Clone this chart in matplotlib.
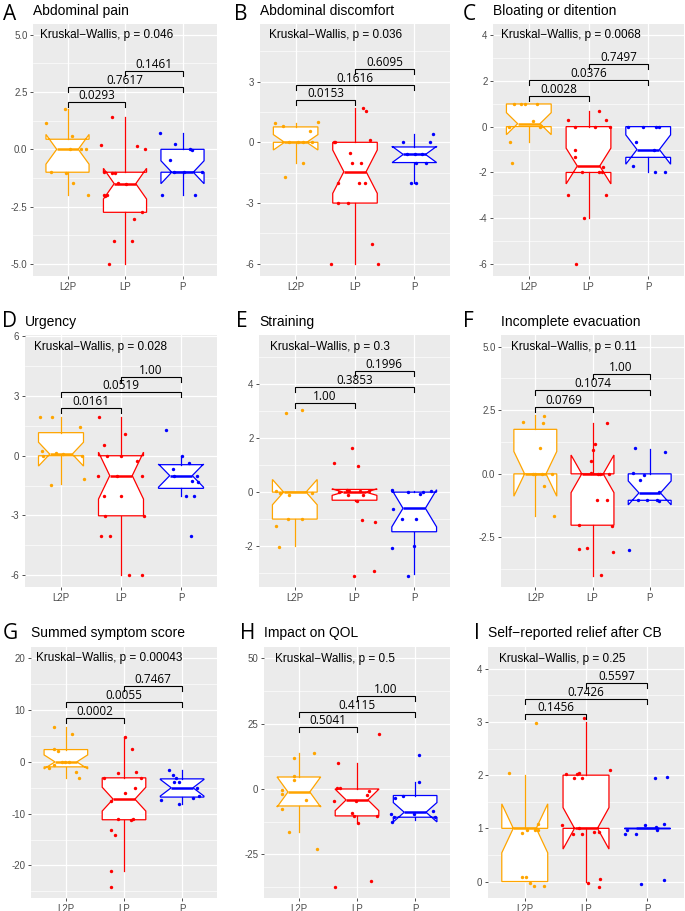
import matplotlib
matplotlib.use("Agg")
import matplotlib.pyplot as plt
import numpy as np
from matplotlib.ticker import FixedLocator, MultipleLocator, FormatStrFormatter

plt.rcParams["font.family"] = ["Liberation Sans", "DejaVu Sans"]

GROUPS = ["L2P", "LP", "P"]
COLORS = ["#FFA500", "#FF0000", "#0000FF"]
PAIRS = [(1, 2), (1, 3), (2, 3)]

LETTERS = list("ABCDEFGHI")
TITLES = ["Abdominal pain", "Abdominal discomfort", "Bloating or ditention",
          "Urgency", "Straining", "Incomplete evacuation",
          "Summed symptom score", "Impact on QOL", "Self\u2212reported relief after CB"]
KW_P = ["0.046", "0.036", "0.0068", "0.028", "0.3", "0.11", "0.00043", "0.5", "0.25"]
KW_X = [0.53, 0.55, 0.53, 0.55, 0.58, 0.57, 0.49, 0.59, 0.58]
KW_Y = [5.0, 5.3, 4.0, 5.49, 5.4, 5.0, 20.0, 49.9, 4.19]
PAIR_P = [["0.0293", "0.7617", "0.1461"], ["0.0153", "0.1616", "0.6095"],
          ["0.0028", "0.0376", "0.7497"], ["0.0161", "0.0519", "1.00"],
          ["1.00", "0.3853", "0.1996"], ["0.0769", "0.1074", "1.00"],
          ["0.0002", "0.0055", "0.7467"], ["0.5041", "0.4115", "1.00"],
          ["0.1456", "0.7426", "0.5597"]]
BRACKET_Y = [[2.07, 2.74, 3.44], [2.09, 2.83, 3.6], [1.34, 2.04, 2.73],
             [2.38, 3.19, 3.98], [3.32, 3.89, 4.5], [2.64, 3.29, 3.92],
             [8.42, 11.5, 14.59], [23.8, 29.6, 35.5], [3.15, 3.44, 3.74]]
YLIMS = [(-5.53, 5.47), (-6.6, 5.84), (-6.52, 4.48), (-6.6, 6.07), (-3.52, 5.83),
         (-4.45, 5.46), (-26.3, 22.2), (-41.7, 54.3), (-0.31, 4.41)]
YTICKS = [[-5, -2.5, 0, 2.5, 5], [-6, -3, 0, 3], [-6, -4, -2, 0, 2, 4],
          [-6, -3, 0, 3, 6], [-2, 0, 2, 4], [-2.5, 0, 2.5, 5],
          [-20, -10, 0, 10, 20], [-25, 0, 25, 50], [0, 1, 2, 3, 4]]
YFMT = ["%.1f", "%d", "%d", "%d", "%d", "%.1f", "%d", "%d", "%d"]

# box stats per group: (whislo, q1, med, q3, whishi, notch_lo, notch_hi)
A_BOX = [(-2.0, -1.0, 0.0, 0.44, 1.75, -0.65, 0.65),
         (-5.0, -2.75, -1.5, -1.0, 1.43, -2.17, -0.83),
         (-2.0, -1.0, -1.0, 0.0, 0.73, -1.5, -0.5)]
B_BOX = [(-1.04, 0.0, 0.0, 0.76, 0.97, -0.38, 0.38),
         (-6.0, -3.0, -1.45, 0.0, 1.68, -2.52, -0.38),
         (-2.02, -1.0, -0.6, -0.23, 0.39, -1.0, -0.2)]
C_BOX = [(-0.65, 0.0, 0.13, 0.99, 0.99, -0.35, 0.61),
         (-4.0, -2.0, -1.72, 0.0, 0.68, -2.5, -0.94),
         (-2.0, -1.34, -1.0, 0.0, 0.0, -1.64, -0.36)]
D_BOX = [(-1.43, 0.0, 0.08, 1.16, 1.96, -0.52, 0.68),
         (-6.0, -3.02, -1.0, 0.0, 1.96, -2.18, 0.18),
         (-2.0, -1.64, -1.0, -0.45, 0.0, -1.58, -0.42)]
E_BOX = [(-2.0, -1.0, 0.0, 0.0, 0.0, -0.47, 0.47),
         (-0.33, -0.3, 0.0, 0.1, 0.1, -0.12, 0.12),
         (-3.02, -1.47, -0.6, 0.0, 0.06, -1.29, 0.09)]
F_BOX = [(-1.67, 0.0, 0.0, 1.75, 2.31, -0.88, 0.88),
         (-4.0, -2.02, 0.0, 0.0, 1.98, -0.74, 0.74),
         (-1.04, -1.04, -0.75, 0.0, 0.98, -1.22, -0.28)]
G_BOX = [(-3.02, -0.96, 0.0, 2.38, 6.68, -1.35, 1.35),
         (-21.1, -11.18, -7.2, -3.08, 4.76, -9.5, -4.9),
         (-8.16, -6.8, -5.0, -3.28, -1.48, -6.6, -3.4)]
H_BOX = [(-16.3, -6.5, -1.15, 4.58, 13.7, -6.9, 4.6),
         (-12.7, -10.3, -4.2, 0.0, 9.9, -8.3, -0.1),
         (-12.0, -10.8, -8.9, -2.5, 2.8, -12.6, -5.2)]
I_BOX = [(0.0, 0.0, 1.0, 1.0, 2.0, 0.54, 1.46),
         (0.0, 1.0, 1.0, 2.0, 3.0, 0.61, 1.39),
         (1.0, 1.0, 1.0, 1.0, 1.0, 1.0, 1.0)]

# jittered points per group: (x jitter, value)
A_L2P = ([-0.38, -0.04, 0.07, 0.04, 0.24, 0.33, -0.28, -0.03, 0.09, 0.35],
         [1.16, 1.75, 0.58, 0.0, 0.0, 0.0, -1.0, -1.03, -1.48, -2.0])
A_LP = ([-0.22, -0.41, 0.2, 0.355, -0.36, -0.22, -0.17, -0.13, 0.02, -0.37, -0.34, -0.32, 0.29, 0.15, -0.19, 0.12, -0.28],
        [1.41, 0.17, 0.15, 0.0, -1.0, -1.03, -1.03, -1.46, -1.53, -2.0, -2.02, -1.98, -2.75, -3.04, -4.0, -4.0, -5.0])
A_P = ([-0.4, -0.13, -0.22, 0.13, 0.16, -0.14, 0.02, 0.34, -0.35, 0.21],
       [0.73, 0.23, -0.45, 0.0, -0.03, -1.0, -1.0, -1.0, -2.0, -2.0])

B_L2P = ([-0.35, -0.22, 0.37, 0.25, -0.11, 0.04, 0.12, 0.28, 0.13, -0.18],
         [0.97, 0.8, 1.0, 0.54, 0.0, 0.0, 0.0, 0.0, -1.04, -1.69])
B_LP = ([0.13, 0.18, 0.25, -0.36, -0.33, -0.08, -0.05, 0.1, -0.28, 0.07, 0.17, -0.28, -0.12, 0.28, -0.4, 0.38],
        [1.71, 1.56, 0.12, 0.0, 0.0, -0.54, -1.04, -1.04, -2.02, -2.02, -2.02, -3.0, -3.0, -5.02, -6.0, -6.0])
B_P = ([-0.19, 0.26, 0.32, -0.13, 0.01, 0.13, 0.02, 0.2, -0.06, 0.02],
       [0.0, 0.0, 0.39, -0.58, -0.58, -0.58, -1.04, -1.04, -2.02, -2.02])

C_L2P = ([-0.24, -0.13, -0.07, 0.14, 0.07, -0.34, 0.18, 0.2, -0.31, -0.28],
         [0.99, 0.99, 0.99, 0.99, 0.26, 0.0, 0.0, 0.03, -0.68, -1.6])
C_LP = ([-0.34, 0.18, 0.29, -0.23, 0.11, 0.36, -0.22, -0.22, -0.11, 0.18, 0.23, 0.25, -0.34, 0.29, -0.08, -0.21],
        [0.29, 0.7, 0.29, 0.0, 0.0, 0.0, -1.0, -1.34, -2.0, -2.0, -2.0, -1.75, -3.0, -3.0, -4.0, -6.0])
C_P = ([-0.34, -0.09, 0.13, 0.18, -0.21, 0.09, -0.25, 0.12, 0.29],
       [0.0, 0.0, 0.0, 0.0, -0.68, -1.0, -1.7, -2.0, -2.0])

D_L2P = ([-0.35, -0.15, 0.32, -0.32, -0.3, -0.09, 0.04, 0.35, -0.17, 0.38],
         [1.96, 1.96, 1.46, 0.23, 0.0, 0.12, 0.07, 0.0, -1.46, -1.17])
D_LP = ([-0.37, 0.07, -0.28, -0.23, 0.0, -0.38, -0.06, 0.35, 0.26, -0.28, 0.0, -0.27, 0.38, -0.34, -0.18, 0.13, 0.35],
        [1.96, 1.1, 0.54, 0.0, 0.0, -1.02, -1.02, -1.02, -0.28, -2.01, -2.01, -3.04, -3.04, -4.03, -4.03, -6.02, -6.02])
D_P = ([-0.25, 0.01, -0.14, 0.13, -0.11, 0.27, 0.19, 0.28, 0.09, 0.22, 0.16],
       [1.29, 0.0, -0.69, -0.35, -1.02, -1.02, -1.27, -1.3, -2.01, -2.01, -4.03])

E_L2P = ([-0.15, 0.12, -0.32, -0.25, -0.1, 0.29, -0.12, 0.12, -0.31, -0.26],
         [2.95, 3.05, 0.04, -0.05, -0.11, -0.05, -0.98, -0.98, -1.26, -2.03])
E_LP = ([-0.04, -0.34, 0.06, -0.12, -0.09, -0.26, 0.1, 0.24, -0.11, 0.15, 0.04, 0.13, 0.34, 0.32, -0.01],
        [1.65, 1.09, 0.97, 0.09, 0.05, 0.0, 0.04, 0.04, -0.09, -0.11, -0.33, -1.04, -1.1, -2.92, -3.1])
E_P = ([-0.37, -0.1, 0.09, 0.14, 0.29, -0.36, -0.2, 0.03, -0.37, -0.01, -0.11],
       [0.07, 0.01, -0.06, 0.0, 0.06, -0.64, -1.0, -1.0, -2.06, -2.0, -3.12])

F_L2P = ([-0.21, 0.15, 0.13, 0.08, -0.04, 0.0, 0.12, 0.3, 0.15, 0.32],
         [2.03, 2.28, 2.0, 1.0, 0.0, 0.0, 0.0, 0.0, -0.47, -1.65])
F_LP = ([0.26, 0.05, 0.0, -0.03, -0.03, 0.09, 0.13, 0.28, 0.08, 0.26, -0.24, 0.34, -0.24, -0.09, 0.35, 0.15],
        [1.98, 1.17, 0.93, 0.51, 0.04, 0.0, 0.0, 0.0, -1.01, -1.01, -2.03, -2.06, -2.97, -2.91, -3.06, -3.99])
F_P = ([-0.26, 0.27, -0.29, -0.1, -0.17, 0.16, -0.2, -0.05, 0.13, 0.17, -0.37],
       [1.0, 0.87, 0.04, -0.05, -0.25, -0.72, -1.04, -1.04, -1.04, -1.06, -2.98])

G_L2P = ([-0.21, 0.1, -0.21, -0.14, -0.07, -0.01, 0.06, -0.21, -0.29, 0.17, 0.23],
         [6.75, 5.4, 2.44, 2.12, 0.0, -0.06, -0.06, -0.58, -1.09, -1.86, -3.15])
G_LP = ([0.01, 0.14, -0.35, -0.11, 0.2, 0.3, 0.19, 0.02, -0.23, -0.11, 0.12, 0.15, -0.23, -0.16, -0.23, -0.23],
        [4.76, 2.5, -3.2, -2.06, -2.0, -3.15, -5.08, -6.04, -7.65, -11.12, -11.25, -11.12, -13.1, -14.07, -21.1, -24.2])
G_P = ([-0.22, -0.16, -0.11, -0.14, -0.05, -0.37, 0.26, 0.18, 0.29, -0.06],
       [-1.48, -2.57, -3.02, -3.79, -3.79, -7.33, -5.01, -7.0, -6.68, -8.1])

H_L2P = ([-0.09, 0.26, -0.09, -0.09, -0.29, -0.29, 0.13, -0.29, -0.17, 0.31],
         [12.0, 13.9, 4.8, 3.6, -0.25, -1.9, -4.1, -7.5, -16.4, -23.0])
H_LP = ([0.37, -0.33, -0.35, -0.29, -0.39, -0.02, 0.2, 0.18, -0.09, -0.05, 0.01, 0.34, -0.37, 0.24],
        [21.0, 10.1, 0.5, 0.4, -4.5, -4.5, -0.8, -2.2, -9.2, -10.4, -13.0, -10.4, -37.5, -35.1])
H_P = ([0.06, 0.07, -0.34, -0.21, -0.41, -0.36, -0.4, -0.02, 0.31, 0.34],
       [13.0, 2.8, -3.3, -2.7, -9.7, -10.8, -12.5, -9.5, -8.4, -10.8])

I_L2P = ([-0.26, 0.19, -0.04, 0.04, 0.16, 0.22, 0.21, -0.05, 0.02, 0.08, 0.15, 0.32],
         [2.04, 2.98, 0.91, 0.97, 0.97, 1.08, 0.97, 0.08, 0.08, -0.03, -0.09, -0.09])
I_LP = ([-0.04, -0.33, -0.15, -0.12, -0.19, -0.07, 0.39, -0.39, -0.12, -0.21, -0.07, 0.13, 0.22, 0.03, 0.23, 0.21],
        [3.07, 2.02, 2.03, 2.04, 1.94, 1.94, 2.09, 1.06, 1.01, 0.9, 0.9, 0.94, 0.94, -0.03, 0.05, -0.1])
I_P = ([-0.36, -0.33, -0.18, -0.04, 0.15, 0.16, 0.28, 0.12, 0.33, -0.11, 0.27],
       [0.9, 0.97, 0.9, 1.06, 1.02, 0.97, 1.09, 1.94, 1.96, -0.04, 0.03])

BOXES = [A_BOX, B_BOX, C_BOX, D_BOX, E_BOX, F_BOX, G_BOX, H_BOX, I_BOX]
POINTS = [(A_L2P, A_LP, A_P), (B_L2P, B_LP, B_P), (C_L2P, C_LP, C_P),
          (D_L2P, D_LP, D_P), (E_L2P, E_LP, E_P), (F_L2P, F_LP, F_P),
          (G_L2P, G_LP, G_P), (H_L2P, H_LP, H_P), (I_L2P, I_LP, I_P)]

# layout, in pixels of the 685x911 canvas
W, H = 685, 911
RECTS = [(33, 24, 217, 276), (260, 24, 450, 276), (493, 24, 684, 276),
         (25, 335, 217, 587), (259, 335, 450, 587), (501, 335, 684, 587),
         (31, 647, 217, 898), (264, 647, 450, 898), (488, 647, 684, 898)]
LETTER_XY = [(3, 20), (234, 20), (463, 20), (2, 327), (236, 327), (463, 327),
             (3, 639), (240, 639), (474, 639)]
TITLE_Y = [15, 15, 15, 326, 326, 326, 637, 637, 637]


def draw_panel(ax, k):
    ylim = YLIMS[k]
    span = ylim[1] - ylim[0]
    ax.set_facecolor("#EBEBEB")
    for s in ax.spines.values():
        s.set_visible(False)

    for i, (st, c) in enumerate(zip(BOXES[k], COLORS)):
        wl, q1, med, q3, wh, lo, hi = st
        stats = dict(whislo=wl, q1=q1, med=med, q3=q3, whishi=wh,
                     cilo=lo, cihi=hi, fliers=[])
        ax.bxp([stats], positions=[i + 1], widths=0.75, shownotches=True,
               showfliers=False, showcaps=False, patch_artist=True,
               manage_ticks=False,
               boxprops=dict(facecolor="white", edgecolor=c, linewidth=0.9),
               whiskerprops=dict(color=c, linewidth=0.9),
               medianprops=dict(color=c, linewidth=1.8), zorder=2)
        dx, yv = POINTS[k][i]
        ax.scatter(i + 1 + np.array(dx), yv, s=6, color=c, lw=0, zorder=3)

    tip = 0.02 * span
    for (a, b), yb, lab in zip(PAIRS, BRACKET_Y[k], PAIR_P[k]):
        ax.plot([a, a, b, b], [yb - tip, yb, yb, yb - tip], color="black",
                lw=0.8, zorder=4, solid_joinstyle="miter")
        ax.text((a + b) / 2, yb, lab, ha="center", va="bottom", fontsize=8.5,
                family=["Open Sans", "DejaVu Sans"], zorder=5)
    ax.text(KW_X[k], KW_Y[k], "Kruskal\u2212Wallis, p = " + KW_P[k],
            ha="left", va="center", fontsize=8.5, zorder=5)

    ax.set_xlim(0.4, 3.6)
    ax.set_ylim(*ylim)
    ax.xaxis.set_major_locator(FixedLocator([1, 2, 3]))
    ax.set_xticklabels(GROUPS)
    ax.yaxis.set_major_locator(FixedLocator(YTICKS[k]))
    step = YTICKS[k][1] - YTICKS[k][0]
    ax.yaxis.set_minor_locator(MultipleLocator(step / 2))
    ax.yaxis.set_major_formatter(FormatStrFormatter(YFMT[k]))
    ax.tick_params(which="major", length=2.5, width=0.6, color="#333333",
                   labelsize=7, labelcolor="#4D4D4D", pad=1.5)
    ax.tick_params(which="minor", length=0)
    ax.set_axisbelow(True)
    ax.grid(True, which="major", color="white", lw=0.9)
    ax.grid(True, which="minor", axis="y", color="white", lw=0.45)


fig = plt.figure(figsize=(W / 100, H / 100), dpi=100)
for k in range(9):
    l, t, r, b = RECTS[k]
    ax = fig.add_axes([l / W, 1 - b / H, (r - l) / W, (b - t) / H])
    draw_panel(ax, k)
    lx, ly = LETTER_XY[k]
    fig.text(lx / W, 1 - ly / H, LETTERS[k], fontsize=15, va="baseline",
             ha="left", family=["Open Sans", "DejaVu Sans"])
    fig.text(l / W, 1 - TITLE_Y[k] / H, TITLES[k], fontsize=10, va="baseline",
             ha="left")

fig.savefig("out.png", dpi=100)
